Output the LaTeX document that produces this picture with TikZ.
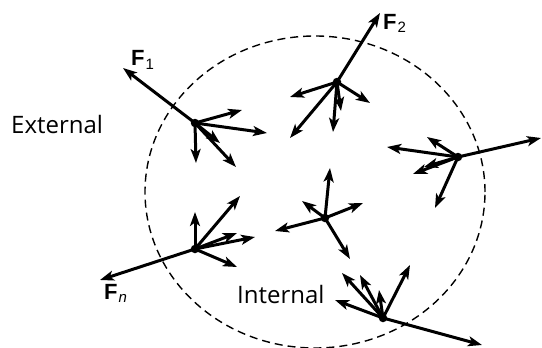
\documentclass[tikz,border=0pt]{standalone}
\usepackage{fontspec}
\setmainfont{Liberation Sans}
\newfontfamily\wordfont{Open Sans}
\newfontfamily\flabfont{Liberation Sans}
\usetikzlibrary{arrows.meta}
\begin{document}
\begin{tikzpicture}[x=1pt,y=-1pt,
  vec/.style={line width=3pt, -{Stealth[length=14pt,width=10pt,inset=3.5pt]}},
  dot/.style={circle, fill=black, inner sep=0pt, minimum size=8.5pt},
  word/.style={font=\wordfont\fontsize{24}{28}\selectfont, inner sep=0pt, anchor=base west},
  flab/.style={font=\flabfont\fontsize{22}{24}\selectfont, inner sep=0pt, anchor=base west},
  bound/.style={draw=black, line width=1.4pt, dash pattern=on 8pt off 5pt}]
\useasboundingbox (0,0) rectangle (542,348);
\fill[white] (0,0) rectangle (542,348);

% boundary of the system
\draw[bound] (315,192) ellipse [x radius=170pt, y radius=156pt];

% particles
\node[dot] (p1) at (195,123) {};
\node[dot] (p2) at (337,82) {};
\node[dot] (p3) at (458,157) {};
\node[dot] (p4) at (195,249) {};
\node[dot] (p5) at (325,218) {};
\node[dot] (p6) at (383,318) {};

% free ends
\coordinate (f1) at (123,68);
\coordinate (a11) at (242,110);
\coordinate (a12) at (267,133);
\coordinate (a13) at (196,163);
\coordinate (a14) at (236,167);
\coordinate (a15) at (220,143);

\coordinate (f2) at (380,13);
\coordinate (a21) at (290,97);
\coordinate (a22) at (290,138);
\coordinate (a23) at (333,132);
\coordinate (a24) at (341,111);
\coordinate (a25) at (370,103);

\coordinate (f3) at (541,138);
\coordinate (a31) at (387,147);
\coordinate (a32) at (427,137);
\coordinate (a33) at (413,174);
\coordinate (a34) at (424,167);
\coordinate (a35) at (435,208);

\coordinate (fn) at (100,280);
\coordinate (a41) at (195,212);
\coordinate (a42) at (240,196);
\coordinate (a43) at (237,233);
\coordinate (a44) at (255,237);
\coordinate (a45) at (237,267);

\coordinate (a51) at (330,168);
\coordinate (a52) at (275,231);
\coordinate (a53) at (302,201);
\coordinate (a54) at (363,203);
\coordinate (a55) at (350,259);

\coordinate (f6) at (482,345);
\coordinate (a61) at (335,300);
\coordinate (a62) at (342,273);
\coordinate (a63) at (360,275);
\coordinate (a64) at (379,290);
\coordinate (a65) at (410,265);

% forces
\foreach \p/\list in {p1/{f1,a11,a12,a13,a14,a15},
                      p2/{f2,a21,a22,a23,a24,a25},
                      p3/{f3,a31,a32,a33,a34,a35},
                      p4/{fn,a41,a42,a43,a44,a45},
                      p5/{a51,a52,a53,a54,a55},
                      p6/{f6,a61,a62,a63,a64,a65}}
  \foreach \e in \list \draw[vec] (\p.center) -- (\e);

% labels
\node[flab] (lf1) at (131,66) {\bfseries F\kern1pt\raisebox{-3pt}{\fontsize{15}{15}\selectfont\mdseries 1}};
\node[flab] (lf2) at (383,29) {\bfseries F\kern1pt\raisebox{-3pt}{\fontsize{15}{15}\selectfont\mdseries 2}};
\node[flab] (lfn) at (104,299) {\bfseries F\kern1pt\raisebox{-3pt}{\fontsize{15}{15}\selectfont\mdseries\itshape n}};
\node[word] (ext) at (11,133) {External};
\node[word] (int) at (237,303) {Internal};
\end{tikzpicture}
\end{document}
